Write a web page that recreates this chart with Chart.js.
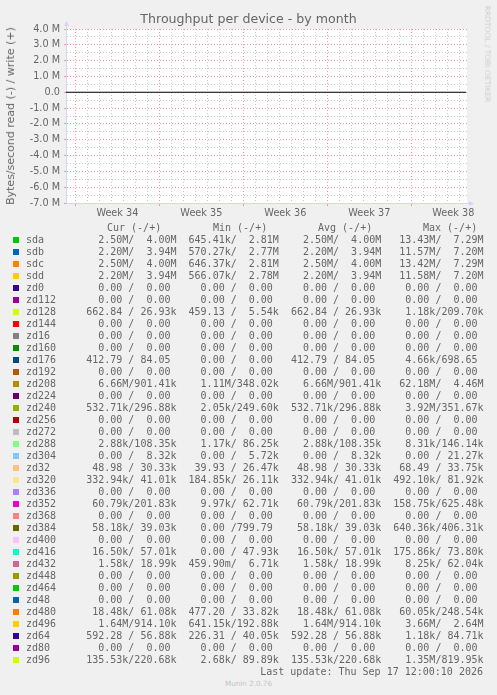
<!DOCTYPE html>
<html><head><meta charset="utf-8">
<script src="https://cdn.jsdelivr.net/npm/chart.js@4/dist/chart.umd.min.js"></script>
<style>
html,body{margin:0;padding:0;background:#f0f0f0;width:497px;height:695px;overflow:hidden;}
#wrap{position:relative;width:497px;height:695px;}
#c{position:absolute;left:0;top:0;}
.t{position:absolute;color:#666;font-family:"DejaVu Sans",sans-serif;white-space:pre;}
.m{position:absolute;color:#666;font-family:"DejaVu Sans Mono",monospace;font-size:10px;line-height:12px;white-space:pre;}
.sq{position:absolute;width:6px;height:6px;}
</style></head>
<body><div id="wrap">
<canvas id="c" width="497" height="230"></canvas>
<div class="t" id="title" style="left:0;width:497px;text-align:center;top:11px;font-size:12.6px;line-height:16px;">Throughput per device - by month</div>
<div class="t" style="left:11px;top:116px;font-size:11px;line-height:12px;transform:translate(-50%,-50%) rotate(-90deg);">Bytes/second read (-) / write (+)</div>
<div class="t" style="left:487px;top:54px;font-size:7.5px;line-height:8px;color:#cfcfcf;transform:translate(-50%,-50%) rotate(90deg);">RRDTOOL / TOBI OETIKER</div>
<div id="legend"></div>
<div class="m" style="right:14px;top:666px;">Last update: Thu Sep 17 12:00:10 2026</div>
<div class="t" style="left:0;width:497px;text-align:center;top:679px;font-size:7.2px;line-height:9px;color:#c4c4c4;">Munin 2.0.76</div>
</div>
<script>
// ---- data ----
const weekLabels = ['Week 34', 'Week 35', 'Week 36', 'Week 37', 'Week 38'];
const weekStartDays = [0.78, 7.78, 14.78, 21.78, 28.78];   // days from the left edge of the graph
const xRangeDays = [0, 33.42];
const yRange = [-7e6, 4e6];
const zeroLineX = [0, 33.33];
const zeroLineY = [0, 0];

const headers = ['Cur (-/+)', 'Min (-/+)', 'Avg (-/+)', 'Max (-/+)'];
const names = ['sda','sdb','sdc','sdd','zd0','zd112','zd128','zd144','zd16','zd160','zd176','zd192',
  'zd208','zd224','zd240','zd256','zd272','zd288','zd304','zd32','zd320','zd336','zd352','zd368','zd384',
  'zd400','zd416','zd432','zd448','zd464','zd48','zd480','zd496','zd64','zd80','zd96'];
const colors = ['#00CC00','#0066B3','#FF8000','#FFCC00','#330099','#990099','#CCFF00','#FF0000','#808080','#008F00','#00487D','#B35A00',
  '#B38F00','#6B006B','#8FB300','#B30000','#BEBEBE','#80FF80','#80C9FF','#FFC080','#FFE680','#AA80FF','#EE00CC','#FF8080','#666600',
  '#FFBFFF','#00FFCC','#CC6699','#999900','#00CC00','#0066B3','#FF8000','#FFCC00','#330099','#990099','#CCFF00'];
const curRead = [2.50e6,2.20e6,2.50e6,2.20e6,0,0,662.84,0,0,0,412.79,0,
  6.66e6,0,532.71e3,0,0,2.88e3,0,48.98,332.94e3,0,60.79e3,0,58.18e3,
  0,16.50e3,1.58e3,0,0,0,18.48e3,1.64e6,592.28,0,135.53e3];
const curWrite = [4.00e6,3.94e6,4.00e6,3.94e6,0,0,26.93e3,0,0,0,84.05,0,
  901.41e3,0,296.88e3,0,0,108.35e3,8.32e3,30.33e3,41.01e3,0,201.83e3,0,39.03e3,
  0,57.01e3,18.99e3,0,0,0,61.08e3,914.10e3,56.88e3,0,220.68e3];
const minRead = [645.41e3,570.27e3,646.37e3,566.07e3,0,0,459.13,0,0,0,0,0,
  1.11e6,0,2.05e3,0,0,1.17e3,0,39.93,184.85e3,0,9.97e3,0,0,
  0,0,459.90e-3,0,0,0,477.20,641.15e3,226.31,0,2.68e3];
const minWrite = [2.81e6,2.77e6,2.81e6,2.78e6,0,0,5.54e3,0,0,0,0,0,
  348.02e3,0,249.60e3,0,0,86.25e3,5.72e3,26.47e3,26.11e3,0,62.71e3,0,799.79,
  0,47.93e3,6.71e3,0,0,0,33.82e3,192.88e3,40.05e3,0,89.89e3];
const avgRead = [2.50e6,2.20e6,2.50e6,2.20e6,0,0,662.84,0,0,0,412.79,0,
  6.66e6,0,532.71e3,0,0,2.88e3,0,48.98,332.94e3,0,60.79e3,0,58.18e3,
  0,16.50e3,1.58e3,0,0,0,18.48e3,1.64e6,592.28,0,135.53e3];
const avgWrite = [4.00e6,3.94e6,4.00e6,3.94e6,0,0,26.93e3,0,0,0,84.05,0,
  901.41e3,0,296.88e3,0,0,108.35e3,8.32e3,30.33e3,41.01e3,0,201.83e3,0,39.03e3,
  0,57.01e3,18.99e3,0,0,0,61.08e3,914.10e3,56.88e3,0,220.68e3];
const maxRead = [13.43e6,11.57e6,13.42e6,11.58e6,0,0,1.18e3,0,0,0,4.66e3,0,
  62.18e6,0,3.92e6,0,0,8.31e3,0,68.49,492.10e3,0,158.75e3,0,640.36e3,
  0,175.86e3,8.25e3,0,0,0,60.05e3,3.66e6,1.18e3,0,1.35e6];
const maxWrite = [7.29e6,7.20e6,7.29e6,7.20e6,0,0,209.70e3,0,0,0,698.65,0,
  4.46e6,0,351.67e3,0,0,146.14e3,21.27e3,33.75e3,81.92e3,0,625.48e3,0,406.31e3,
  0,73.80e3,62.04e3,0,0,0,248.54e3,2.64e6,84.71e3,0,819.95e3];

// ---- legend table ----
function fmt(v){
  if (v === 0) return '  0.00 ';
  const units = ['m','','k','M','G','T'];
  let e = 1, x = v;
  while (Math.abs(x) >= 1000 && e < units.length-1){ x /= 1000; e++; }
  while (Math.abs(x) < 1 && e > 0){ x *= 1000; e--; }
  return x.toFixed(2).padStart(6) + (units[e] || ' ');
}
function field(r, w){ return fmt(r) + '/' + fmt(w); }
const leg = document.getElementById('legend');
const headerX = [107, 213, 318, 423];
headers.forEach((h, i) => {
  const d = document.createElement('div');
  d.className = 'm'; d.style.left = headerX[i] + 'px'; d.style.top = '222px';
  d.textContent = h; leg.appendChild(d);
});
names.forEach((n, i) => {
  const cy = 240 + i * 12;
  const s = document.createElement('div');
  s.className = 'sq'; s.style.left = '13px'; s.style.top = (cy - 3) + 'px'; s.style.background = colors[i];
  leg.appendChild(s);
  const d = document.createElement('div');
  d.className = 'm'; d.style.left = '26px'; d.style.top = (cy - 6) + 'px';
  d.textContent = n.padEnd(10) + field(curRead[i], curWrite[i]) + '  ' + field(minRead[i], minWrite[i]) + '  ' +
    field(avgRead[i], avgWrite[i]) + '  ' + field(maxRead[i], maxWrite[i]);
  leg.appendChild(d);
});

// ---- chart ----
const MAJOR = 'rgba(222,140,140,0.85)';
const MINOR = 'rgba(190,190,190,0.85)';
const NONE = 'rgba(0,0,0,0)';
const AXIS = '#CFD6F8';
const near = (a, b) => Math.abs(a - b) < 1e-6;
const isWeekStart = v => weekStartDays.some(w => near(w, v));
const isDay = v => near((v - weekStartDays[0]) - Math.round(v - weekStartDays[0]), 0);
const weekCenterIndex = v => weekStartDays.findIndex(w => near(w + 3.5, v));

const arrowPlugin = {
  id: 'arrows',
  afterDraw(chart) {
    const {ctx, chartArea: a} = chart;
    ctx.save();
    ctx.strokeStyle = AXIS; ctx.fillStyle = AXIS; ctx.lineWidth = 1;
    ctx.beginPath(); ctx.moveTo(a.left + 0.5, a.top); ctx.lineTo(a.left + 0.5, a.top - 4); ctx.stroke();
    ctx.beginPath(); ctx.moveTo(a.left + 0.5, a.top - 8); ctx.lineTo(a.left - 2, a.top - 3); ctx.lineTo(a.left + 3, a.top - 3); ctx.closePath(); ctx.fill();
    ctx.beginPath(); ctx.moveTo(a.right, a.bottom + 0.5); ctx.lineTo(a.right + 2, a.bottom + 0.5); ctx.stroke();
    ctx.beginPath(); ctx.moveTo(a.right + 7, a.bottom + 0.5); ctx.lineTo(a.right + 2, a.bottom - 2); ctx.lineTo(a.right + 2, a.bottom + 3); ctx.closePath(); ctx.fill();
    ctx.restore();
  }
};
const bgPlugin = {
  id: 'canvasBg',
  beforeDraw(chart) {
    const {ctx, chartArea: a} = chart;
    ctx.save(); ctx.fillStyle = '#ffffff'; ctx.fillRect(a.left, a.top, a.right - a.left, a.bottom - a.top); ctx.restore();
  }
};

new Chart(document.getElementById('c'), {
  type: 'line',
  data: {
    datasets: [{
      label: 'zero',
      data: zeroLineX.map((x, i) => ({x, y: zeroLineY[i]})),
      borderColor: '#000000', borderWidth: 1.2, pointRadius: 0, tension: 0
    }]
  },
  options: {
    responsive: false, animation: false, devicePixelRatio: 1,
    layout: {padding: {left: 0, top: 29, right: 30, bottom: 0}},
    plugins: {legend: {display: false}, tooltip: {enabled: false}, title: {display: false}},
    scales: {
      x: {
        type: 'linear', min: xRangeDays[0], max: xRangeDays[1],
        afterFit(s) { s.height = 27; },
        afterBuildTicks(s) {
          const vals = [];
          for (let d = weekStartDays[0] - Math.floor(weekStartDays[0]); d <= xRangeDays[1]; d += 1) vals.push(+d.toFixed(4));
          weekStartDays.forEach(w => { if (w + 3.5 <= xRangeDays[1]) vals.push(+(w + 3.5).toFixed(4)); });
          vals.sort((a, b) => a - b);
          s.ticks = vals.map(v => ({value: v}));
        },
        grid: {
          color: c => { const v = c.tick ? c.tick.value : NaN; return isWeekStart(v) ? MAJOR : (isDay(v) ? MINOR : NONE); },
          tickColor: c => { const v = c.tick ? c.tick.value : NaN; return isWeekStart(v) ? MAJOR : NONE; },
          lineWidth: 1, tickLength: 3, drawTicks: true
        },
        border: {display: true, color: AXIS, width: 1, dash: [1, 2]},
        ticks: {
          autoSkip: false, maxRotation: 0, minRotation: 0, padding: 2, color: '#666666',
          font: {family: 'DejaVu Sans', size: 9.7},
          callback: v => { const i = weekCenterIndex(v); return i >= 0 ? weekLabels[i] : ''; }
        }
      },
      y: {
        type: 'linear', min: yRange[0], max: yRange[1],
        afterFit(s) { s.width = 66; },
        afterBuildTicks(s) {
          const vals = [];
          for (let v = yRange[0]; v <= yRange[1]; v += 5e5) vals.push(v);
          s.ticks = vals.map(v => ({value: v}));
        },
        grid: {
          color: c => { const v = c.tick ? c.tick.value : NaN; if (near(v, yRange[0])) return NONE; return (v % 1e6 === 0) ? MAJOR : MINOR; },
          tickColor: c => { const v = c.tick ? c.tick.value : NaN; return (v % 1e6 === 0) ? MAJOR : NONE; },
          lineWidth: 1, tickLength: 2, drawTicks: true
        },
        border: {display: true, color: AXIS, width: 1, dash: [1, 2]},
        ticks: {
          autoSkip: false, padding: 4, color: '#666666',
          font: {family: 'DejaVu Sans', size: 9.7},
          callback: v => (v % 1e6 !== 0) ? '' : (v === 0 ? '0.0' : (v / 1e6).toFixed(1) + ' M')
        }
      }
    }
  },
  plugins: [bgPlugin, arrowPlugin]
});
</script>
</body></html>
